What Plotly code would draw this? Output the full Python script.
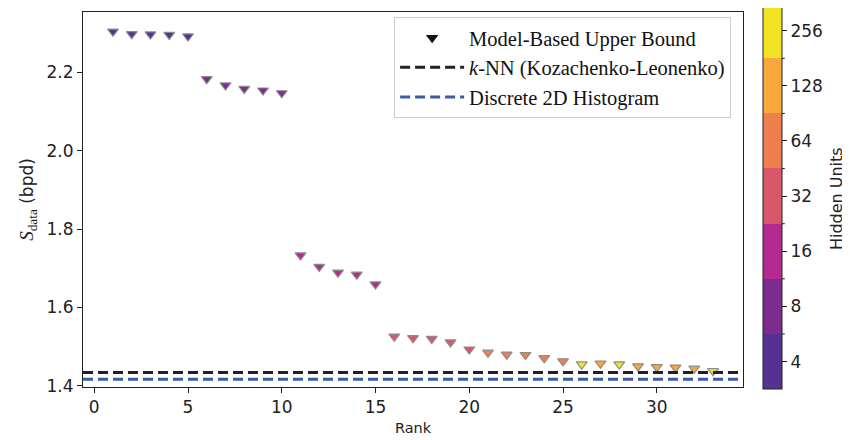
import numpy as np
import plotly.graph_objects as go

# ---------------- data ----------------
rank = [1, 2, 3, 4, 5, 6, 7, 8, 9, 10, 11, 12, 13, 14, 15, 16, 17,
        18, 19, 20, 21, 22, 23, 24, 25, 26, 27, 28, 29, 30, 31, 32, 33]
s_data = [2.304, 2.298, 2.297, 2.296, 2.292,
          2.183, 2.167, 2.158, 2.154, 2.147,
          1.733, 1.704, 1.689, 1.684, 1.659,
          1.526, 1.522, 1.520, 1.511, 1.493,
          1.485, 1.480, 1.479, 1.471, 1.463,
          1.455, 1.457, 1.455, 1.450, 1.448, 1.447, 1.444, 1.438]
hidden_units = [4, 4, 4, 4, 4,
                8, 8, 8, 8, 8,
                16, 16, 16, 16, 16,
                32, 32, 32, 32, 32,
                64, 64, 64, 64, 64,
                256, 128, 256, 128, 128, 128, 128, 256]
knn_value = 1.434
hist_value = 1.417

cbar_levels = [4, 8, 16, 32, 64, 128, 256]
cbar_colors = ["#553193", "#7c2b8f", "#b52a8e", "#d8576b",
               "#ef7f4f", "#f9a93b", "#f3e325"]

X_RANGE = [-0.6, 34.6]
Y_RANGE = [1.397, 2.354]

# discrete colorscale
n = len(cbar_colors)
colorscale = []
for i, c in enumerate(cbar_colors):
    colorscale.append([i / n, c])
    colorscale.append([(i + 1) / n, c])

log_units = np.log2(hidden_units)
log_levels = np.log2(cbar_levels)

# geometry (page body adds an 8px offset, so the figure is 8px smaller)
FIG_W, FIG_H = 842, 432
M_L, M_R, M_T, M_B = 75, 107, 4, 53
PLOT_W = FIG_W - M_L - M_R
PLOT_H = FIG_H - M_T - M_B
CB_X, CB_THICK, CB_LEN, CB_Y = 1.03, 19, 1.029, 0.509

fig = go.Figure()

fig.add_trace(go.Scatter(
    x=rank, y=s_data, mode="markers", showlegend=False,
    marker=dict(
        symbol="triangle-down", size=9.5,
        color=log_units, colorscale=colorscale,
        cmin=log_levels[0] - 0.5, cmax=log_levels[-1] + 0.5,
        line=dict(color="#8c8c8c", width=1.2),
        colorbar=dict(
            tickvals=list(log_levels), ticktext=[str(v) for v in cbar_levels],
            ticks="outside", ticklen=5, tickwidth=1, tickcolor="#222",
            tickfont=dict(family="DejaVu Sans", size=17, color="#222"),
            thickness=CB_THICK, thicknessmode="pixels",
            len=CB_LEN, lenmode="fraction",
            x=CB_X, xanchor="left", y=CB_Y, yanchor="middle",
            xpad=0, ypad=0,
            outlinecolor="#222", outlinewidth=1,
        ),
    ),
))

# legend entry for markers
fig.add_trace(go.Scatter(
    x=[None], y=[None], mode="markers", name="Model-Based Upper Bound",
    legendgroup="a",
    marker=dict(symbol="triangle-down", size=11, color="#111111"),
))

fig.add_trace(go.Scatter(
    x=X_RANGE, y=[knn_value, knn_value], mode="lines",
    name="<i>k</i>-NN (Kozachenko-Leonenko)", legendgroup="b",
    line=dict(color="#222222", width=3, dash="10px,5px"),
))
fig.add_trace(go.Scatter(
    x=X_RANGE, y=[hist_value, hist_value], mode="lines",
    name="Discrete 2D Histogram", legendgroup="c",
    line=dict(color="#3b5aa8", width=3, dash="10px,5px"),
))

# minor ticks on the colorbar at bin boundaries
cb_x0 = CB_X + CB_THICK / PLOT_W
cb_bottom = CB_Y - CB_LEN / 2
shapes = []
for i in range(1, n):
    yb = cb_bottom + CB_LEN * i / n
    shapes.append(dict(type="line", xref="paper", yref="paper",
                       x0=cb_x0, x1=cb_x0 + 3 / PLOT_W, y0=yb, y1=yb,
                       line=dict(color="#222", width=1)))

axis_common = dict(
    showline=True, linecolor="#222", linewidth=1, mirror=True,
    ticks="outside", ticklen=5, tickwidth=1, tickcolor="#222",
    showgrid=False, zeroline=False,
    tickfont=dict(family="DejaVu Sans", size=17, color="#222"),
)

fig.update_layout(
    width=FIG_W, height=FIG_H,
    margin=dict(l=M_L, r=M_R, t=M_T, b=M_B, autoexpand=False),
    paper_bgcolor="white", plot_bgcolor="white",
    shapes=shapes,
    annotations=[dict(text="Hidden Units", xref="paper", yref="paper",
                      x=1.142, y=0.503, xanchor="center", yanchor="middle",
                      textangle=-90, showarrow=False,
                      font=dict(family="DejaVu Sans", size=16, color="#222"))],
    xaxis=dict(range=X_RANGE, tickmode="array",
               tickvals=[0, 5, 10, 15, 20, 25, 30],
               title=dict(text="Rank", standoff=6,
                          font=dict(family="DejaVu Sans", size=14.5, color="#222")),
               **axis_common),
    yaxis=dict(range=Y_RANGE, tickmode="array",
               tickvals=[1.4, 1.6, 1.8, 2.0, 2.2],
               ticktext=["1.4", "1.6", "1.8", "2.0", "2.2"],
               title=dict(text='<span style="font-family:\'Liberation Serif\';font-size:19px"><i>S</i><sub>data</sub></span> (bpd)',
                          standoff=8,
                          font=dict(family="DejaVu Sans", size=17, color="#222")),
               **axis_common),
    legend=dict(
        x=0.982, xanchor="right", y=0.987, yanchor="top",
        bgcolor="rgba(255,255,255,0.85)", bordercolor="#cccccc", borderwidth=1,
        font=dict(family="Liberation Serif", size=20.5, color="#111"),
        itemwidth=64, tracegroupgap=0,
    ),
)

fig.write_html("out.html")
